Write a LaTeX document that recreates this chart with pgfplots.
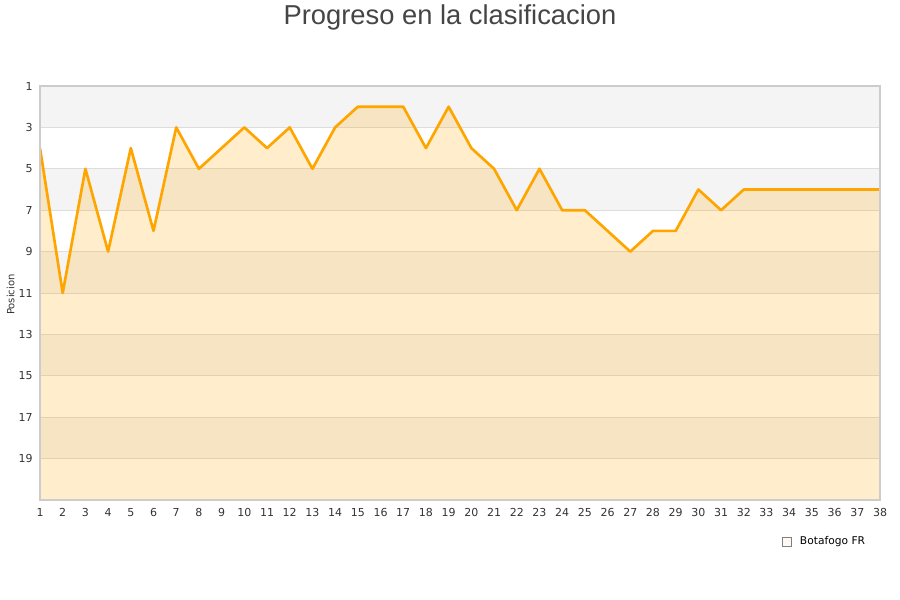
\documentclass[border=0pt]{standalone}
\usepackage{pgfplots}
\pgfplotsset{compat=1.18}
\usepackage{fontspec}
\setmainfont{DejaVu Sans}
\newfontfamily\titlefont{Liberation Sans}
\definecolor{lineor}{HTML}{FFA500}
\definecolor{bandgray}{HTML}{F4F4F4}
\definecolor{gridgray}{HTML}{DDDDDD}
\definecolor{boxgray}{HTML}{CCCCCC}
\definecolor{txt}{HTML}{333333}
\begin{document}
\begin{tikzpicture}
  \path[use as bounding box] (0,0) rectangle (675pt,450pt);
  \node[font=\titlefont\fontsize{20.5}{24}\selectfont, text=black!73] at (337.5pt,437pt) {Progreso en la clasificacion};
  \node[rotate=90, font=\fontsize{7.5}{9}\selectfont, text=txt] at (8pt,229pt) {Posicion};
  \begin{axis}[
    at={(30pt,75pt)}, anchor=south west,
    scale only axis,
    width=630pt, height=310.5pt,
    axis on top,
    xmin=1, xmax=38, ymin=1, ymax=21,
    y dir=reverse,
    xtick={1,...,38},
    ytick={1,3,...,19},
    axis line style={draw=boxgray, line width=0.8pt},
    major tick length=0pt,
    tick label style={font=\fontsize{8.25}{10}\selectfont, text=txt},
    /pgf/number format/assume math mode=true,
    xticklabel style={yshift=-3pt},
    yticklabel style={xshift=-2pt},
    legend style={at={(1,-0.085)}, anchor=north east, xshift=-6pt, yshift=3pt,
      draw=none, fill=none, font=\fontsize{8}{10}\selectfont},
    legend image code/.code={
      \path (0pt,0pt) -- (11pt,0pt);
      \draw[draw=gray, fill=lineor!28, line width=0.5pt] (0pt,-3.2pt) rectangle (6.4pt,3.2pt);
    },
    band/.style={draw=none, fill=bandgray, forget plot},
    gridl/.style={draw=gridgray, line width=0.6pt, forget plot},
  ]
    \addplot[band] coordinates {(1,1) (38,1) (38,3) (1,3)};
    \addplot[band] coordinates {(1,5) (38,5) (38,7) (1,7)};
    \addplot[band] coordinates {(1,9) (38,9) (38,11) (1,11)};
    \addplot[band] coordinates {(1,13) (38,13) (38,15) (1,15)};
    \addplot[band] coordinates {(1,17) (38,17) (38,19) (1,19)};
    \addplot[gridl] coordinates {(1,3) (38,3)};
    \addplot[gridl] coordinates {(1,5) (38,5)};
    \addplot[gridl] coordinates {(1,7) (38,7)};
    \addplot[gridl] coordinates {(1,9) (38,9)};
    \addplot[gridl] coordinates {(1,11) (38,11)};
    \addplot[gridl] coordinates {(1,13) (38,13)};
    \addplot[gridl] coordinates {(1,15) (38,15)};
    \addplot[gridl] coordinates {(1,17) (38,17)};
    \addplot[gridl] coordinates {(1,19) (38,19)};

    \addplot[draw=none, fill=lineor, fill opacity=0.2] coordinates {
      (1,4) (2,11) (3,5) (4,9) (5,4) (6,8) (7,3) (8,5) (9,4) (10,3)
      (11,4) (12,3) (13,5) (14,3) (15,2) (16,2) (17,2) (18,4) (19,2) (20,4)
      (21,5) (22,7) (23,5) (24,7) (25,7) (26,8) (27,9) (28,8) (29,8) (30,6)
      (31,7) (32,6) (33,6) (34,6) (35,6) (36,6) (37,6) (38,6)
      (38,21) (1,21)};
    \addlegendentry{Botafogo FR}

    \addplot[lineor, line width=2pt, line join=round, forget plot] coordinates {
      (1,4) (2,11) (3,5) (4,9) (5,4) (6,8) (7,3) (8,5) (9,4) (10,3)
      (11,4) (12,3) (13,5) (14,3) (15,2) (16,2) (17,2) (18,4) (19,2) (20,4)
      (21,5) (22,7) (23,5) (24,7) (25,7) (26,8) (27,9) (28,8) (29,8) (30,6)
      (31,7) (32,6) (33,6) (34,6) (35,6) (36,6) (37,6) (38,6)};
  \end{axis}
\end{tikzpicture}
\end{document}
